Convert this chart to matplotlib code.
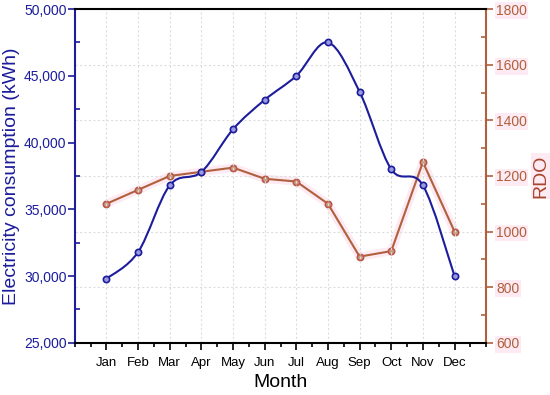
import numpy as np
import matplotlib
matplotlib.use('Agg')
import matplotlib.pyplot as plt
from matplotlib.path import Path
from matplotlib.patches import PathPatch
from matplotlib.ticker import MultipleLocator, FuncFormatter

plt.rcParams['font.family'] = ['Liberation Sans', 'DejaVu Sans']

# Data
months = ['Jan', 'Feb', 'Mar', 'Apr', 'May', 'Jun', 'Jul', 'Aug', 'Sep', 'Oct', 'Nov', 'Dec']
electricity = [29800, 31800, 36800, 37800, 41000, 43200, 45000, 47500, 43800, 38000, 36800, 30000]
rdo = [1100, 1150, 1200, 1215, 1230, 1190, 1180, 1100, 910, 930, 1250, 1000]

blue = '#1c1c9c'
brown = '#b0603c'
rdo_text = '#a8442c'
pink = '#fdeaf2'

x = np.arange(1, len(months) + 1)


def smooth_path(xs, ys):
    # Catmull-Rom curve through the points, drawn as cubic Bezier segments
    pts = np.column_stack([xs, ys]).astype(float)
    ext = np.vstack([pts[0], pts, pts[-1]])
    verts = [tuple(pts[0])]
    codes = [Path.MOVETO]
    for i in range(1, len(ext) - 2):
        p0, p1, p2, p3 = ext[i - 1], ext[i], ext[i + 1], ext[i + 2]
        c1 = p1 + (p2 - p0) / 6
        c2 = p2 - (p3 - p1) / 6
        verts += [tuple(c1), tuple(c2), tuple(p2)]
        codes += [Path.CURVE4] * 3
    return Path(verts, codes)


fig = plt.figure(figsize=(5.5, 3.95), dpi=100)
ax = fig.add_axes([0.136, 0.132, 0.748, 0.845])
ax2 = ax.twinx()

# left axis: electricity (smooth line)
ax.add_patch(PathPatch(smooth_path(x, electricity), facecolor='none', edgecolor=blue, lw=1.5, zorder=3))
ax.plot(x, electricity, 'o', ms=4.5, mfc='#9a9ae0', mec=blue, mew=1.2, zorder=4)
ax.set_xlim(0, 13)
ax.set_ylim(25000, 50000)
ax.yaxis.set_major_locator(MultipleLocator(5000))
ax.yaxis.set_minor_locator(MultipleLocator(2500))
ax.yaxis.set_major_formatter(FuncFormatter(lambda v, p: f'{int(v):,}'))
ax.set_xticks(x)
ax.set_xticklabels(months)
ax.xaxis.set_minor_locator(MultipleLocator(0.5))
ax.set_ylabel('Electricity consumption (kWh)', color=blue, fontsize=14, labelpad=3)
ax.set_xlabel('Month', fontsize=14, labelpad=4)
ax.tick_params(axis='y', colors=blue, labelsize=10, length=5, width=1.2, pad=1)
ax.tick_params(axis='y', which='minor', colors=blue, direction='in', length=3.5, width=1.2)
ax.tick_params(axis='x', labelsize=9.5, length=5, width=1.2, pad=5)
ax.tick_params(axis='x', which='minor', length=3, width=1.2)
ax.spines['left'].set_color(blue)
ax.spines['left'].set_linewidth(1.5)
ax.spines['bottom'].set_linewidth(1.5)
ax.spines['top'].set_linewidth(1.5)
ax.spines['right'].set_visible(False)
ax.grid(axis='x', color='#dddddd', ls=(0, (2, 2)), lw=0.8)

# right axis: RDO
ax2.plot(x, rdo, color=pink, lw=6, solid_capstyle='round', zorder=1)
ax2.plot(x, rdo, '-o', color=brown, lw=1.5, ms=4.5, mfc='#c8a088', mec='#b85848', mew=1.2, zorder=3)
ax2.set_ylim(600, 1800)
ax2.yaxis.set_major_locator(MultipleLocator(200))
ax2.yaxis.set_minor_locator(MultipleLocator(100))
ax2.set_ylabel('RDO', color=rdo_text, fontsize=14, labelpad=4,
               bbox=dict(facecolor=pink, edgecolor='none', pad=1))
ax2.tick_params(axis='y', colors=brown, labelcolor=brown, labelsize=10, length=5, width=1.2, pad=2)
ax2.tick_params(axis='y', which='minor', colors=brown, direction='in', length=3.5, width=1.2)
for lab in ax2.get_yticklabels():
    lab.set_bbox(dict(facecolor=pink, edgecolor='none', pad=1))
ax2.spines['right'].set_color(brown)
ax2.spines['right'].set_linewidth(1.5)
ax2.spines['left'].set_visible(False)
ax2.spines['top'].set_visible(False)
ax2.spines['bottom'].set_visible(False)
ax2.grid(axis='y', color='#dddddd', ls=(0, (2, 2)), lw=0.8)
ax2.set_zorder(ax.get_zorder() - 1)
ax.patch.set_visible(False)

fig.savefig('out.png', dpi=100)
